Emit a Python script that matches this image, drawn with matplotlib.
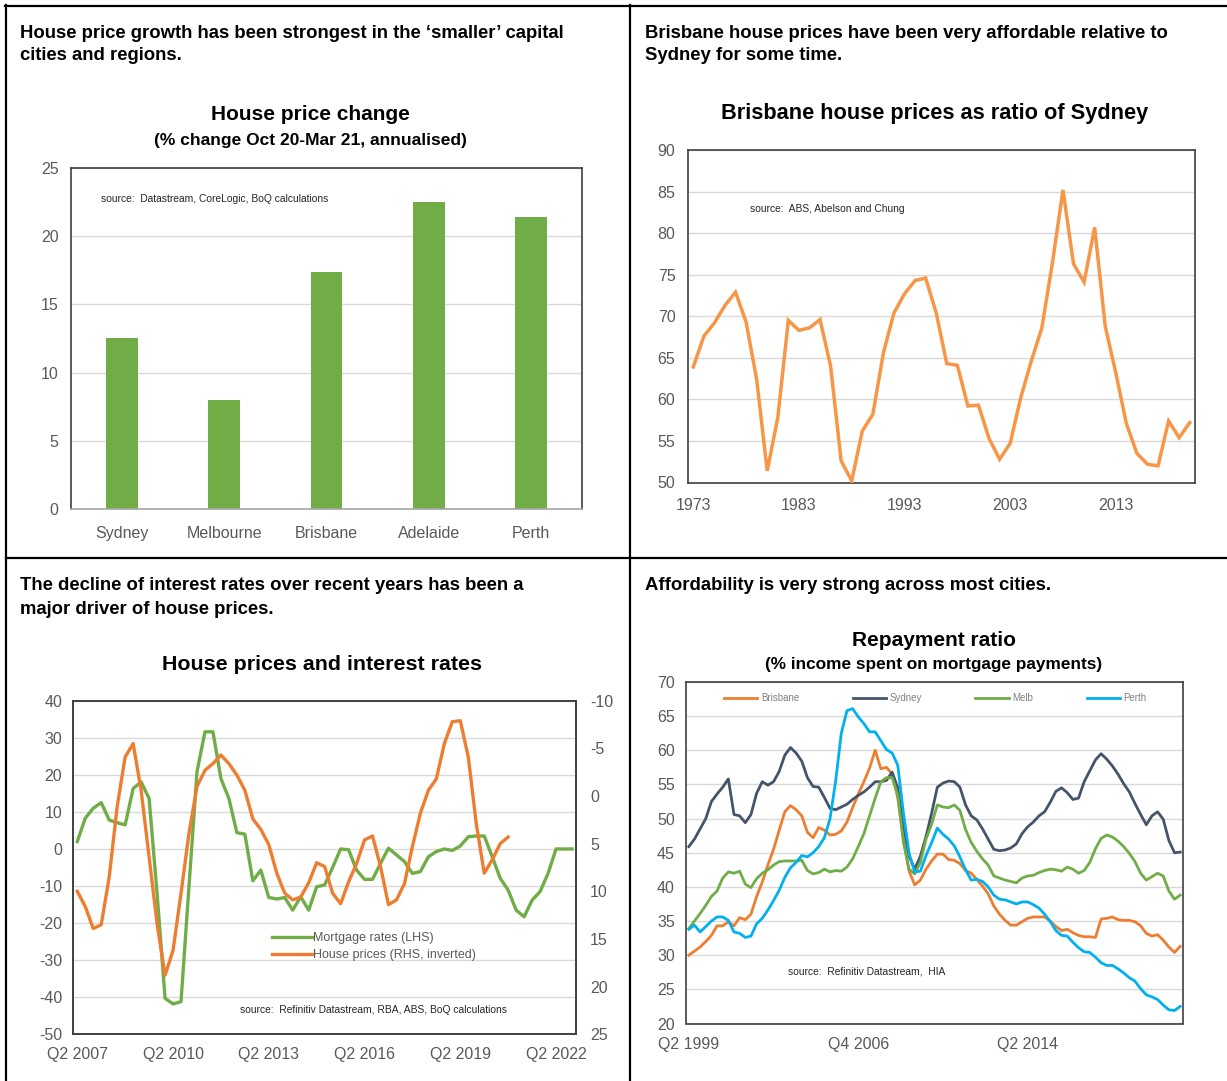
import matplotlib
matplotlib.use('Agg')
import matplotlib.pyplot as plt
import numpy as np
from matplotlib.lines import Line2D

# ---------------- data ----------------
p1_cities = ['Sydney', 'Melbourne', 'Brisbane', 'Adelaide', 'Perth']
p1_values = [12.5, 8.0, 17.4, 22.5, 21.4]

p2_years = list(range(1973, 2021))
p2_ratio = [63.9, 67.6, 69.2, 71.3, 72.9, 69.3, 62.4, 51.4, 57.8, 69.5,
            68.3, 68.6, 69.6, 64.0, 52.6, 50.2, 56.2, 58.2, 65.6, 70.4,
            72.7, 74.3, 74.6, 70.4, 64.3, 64.1, 59.2, 59.3, 55.3, 52.8,
            54.7, 60.2, 64.6, 68.6, 76.4, 85.2, 76.3, 74.1, 80.7, 68.8,
            63.2, 57.1, 53.5, 52.2, 52.0, 57.4, 55.4, 57.2]
p2_ticklabels = ['1973', '1983', '1993', '2003', '2013']

# quarterly, Q2 2007 .. Q4 2022
p3_mortgage = [2.0, 8.3, 11.0, 12.5, 7.8, 7.1, 6.5, 16.3, 18.1, 13.6,
               -12.0, -40.3, -41.8, -41.2, -10.0, 20.8, 31.6, 31.6, 19.0, 13.6,
               4.4, 4.0, -8.6, -5.7, -13.1, -13.5, -13.1, -16.5, -12.9, -16.5,
               -10.2, -9.7, -5.0, 0.0, -0.2, -5.7, -8.2, -8.2, -3.9, 0.2,
               -1.6, -3.4, -6.6, -6.1, -2.1, -0.7, 0.0, -0.4, 0.8, 3.3,
               3.5, 3.5, -2.1, -7.9, -11.1, -16.5, -18.3, -13.8, -11.5, -6.6,
               0.0, 0.0, 0.0]
p3_house = [10.0, 11.6, 13.9, 13.5, 8.5, 1.1, -4.1, -5.5, -0.6, 6.4,
            13.4, 18.8, 16.2, 10.2, 3.9, -1.0, -2.7, -3.4, -4.3, -3.4,
            -2.2, -0.6, 2.4, 3.5, 5.1, 8.1, 10.2, 10.9, 10.6, 9.1,
            7.0, 7.4, 10.2, 11.3, 9.0, 7.1, 4.6, 4.2, 7.4, 11.4,
            10.9, 9.2, 5.3, 1.8, -0.6, -1.8, -5.5, -7.8, -7.9, -4.1,
            2.9, 8.1, 6.7, 5.0, 4.3]
p3_ticklabels = ['Q2 2007', 'Q2 2010', 'Q2 2013', 'Q2 2016', 'Q2 2019', 'Q2 2022']
p3_labels = ['Mortgage rates (LHS)', 'House prices (RHS, inverted)']

# quarterly, Q2 1999 .. Q1 2021
p4_brisbane = [30.0, 30.6, 31.2, 32.0, 32.9, 34.3, 34.3, 34.9, 34.3, 35.5,
               35.2, 36.0, 38.6, 40.7, 43.2, 45.5, 48.3, 51.0, 51.9, 51.3,
               50.4, 48.0, 47.2, 48.7, 48.3, 47.6, 47.7, 48.2, 49.5, 51.6,
               53.6, 55.4, 57.4, 60.0, 57.3, 57.5, 56.5, 53.0, 47.0, 42.3,
               40.3, 41.0, 42.6, 43.8, 44.8, 44.8, 44.0, 43.9, 43.4, 42.4,
               42.0, 41.1, 40.1, 39.0, 37.2, 36.0, 35.1, 34.4, 34.4, 34.9,
               35.4, 35.6, 35.6, 35.6, 35.0, 34.2, 33.6, 33.8, 33.3, 32.9,
               32.7, 32.7, 32.6, 35.3, 35.4, 35.6, 35.2, 35.1, 35.1, 34.9,
               34.3, 33.2, 32.8, 33.0, 32.2, 31.2, 30.4, 31.3]
p4_sydney = [45.9, 47.0, 48.5, 50.0, 52.5, 53.6, 54.6, 55.8, 50.6, 50.4,
             49.4, 50.6, 53.7, 55.4, 54.9, 55.4, 56.9, 59.3, 60.4, 59.6,
             58.4, 56.0, 54.7, 54.6, 53.1, 51.5, 51.3, 51.7, 52.1, 52.8,
             53.4, 53.9, 54.6, 55.4, 55.4, 55.6, 56.8, 54.5, 49.0, 44.5,
             42.6, 44.5, 47.4, 50.8, 54.6, 55.2, 55.5, 55.4, 54.6, 52.0,
             50.4, 49.8, 48.5, 47.0, 45.5, 45.3, 45.4, 45.7, 46.3, 47.8,
             48.8, 49.5, 50.4, 51.0, 52.4, 54.0, 54.5, 53.8, 52.8, 53.0,
             55.4, 57.0, 58.6, 59.5, 58.7, 57.7, 56.5, 55.1, 53.9, 52.2,
             50.6, 49.1, 50.4, 51.0, 49.9, 46.8, 45.0, 45.1]
p4_melb = [33.9, 35.0, 36.1, 37.3, 38.6, 39.4, 41.3, 42.2, 42.0, 42.3,
           40.4, 39.9, 41.2, 42.0, 42.5, 43.2, 43.7, 43.8, 43.8, 43.8,
           43.9, 42.4, 41.9, 42.1, 42.6, 42.2, 42.4, 42.3, 42.9, 44.1,
           45.9, 47.8, 50.4, 53.0, 55.4, 56.0, 56.0, 53.5, 46.5, 42.6,
           41.9, 43.6, 47.0, 49.2, 52.0, 51.7, 51.6, 52.0, 51.2, 48.4,
           46.5, 45.2, 44.1, 43.2, 41.6, 41.3, 41.0, 40.8, 40.6, 41.3,
           41.6, 41.7, 42.1, 42.4, 42.6, 42.5, 42.3, 42.9, 42.6, 42.0,
           42.4, 43.6, 45.6, 47.1, 47.6, 47.3, 46.7, 45.9, 44.9, 43.7,
           42.0, 41.0, 41.5, 42.0, 41.6, 39.4, 38.2, 38.8]
p4_perth = [33.8, 34.4, 33.4, 34.2, 35.0, 35.6, 35.6, 35.1, 33.4, 33.2,
            32.6, 32.8, 34.6, 35.4, 36.6, 38.0, 39.5, 41.4, 42.8, 43.6,
            44.6, 44.4, 45.0, 45.9, 47.2, 50.0, 55.5, 62.5, 65.8, 66.1,
            64.9, 63.9, 62.7, 62.7, 61.4, 60.1, 59.6, 57.8, 50.8, 44.9,
            42.2, 42.3, 44.6, 46.5, 48.6, 47.7, 47.0, 46.0, 44.4, 42.5,
            41.0, 41.1, 40.8, 40.0, 38.8, 38.2, 38.1, 37.8, 37.5, 37.8,
            37.8, 37.4, 36.9, 36.0, 34.9, 33.6, 32.9, 32.8, 31.9, 31.1,
            30.5, 30.4, 29.7, 28.9, 28.5, 28.5, 28.0, 27.4, 26.7, 26.2,
            25.1, 24.2, 23.9, 23.5, 22.7, 22.0, 21.9, 22.5]
p4_names = ['Brisbane', 'Sydney', 'Melb', 'Perth']
p4_ticklabels = ['Q2 1999', 'Q4 2006', 'Q2 2014']

# ---------------- style ----------------
GREEN = '#70AD47'
ORANGE = '#ED7D31'
LORANGE = '#F79646'
NAVY = '#44546A'
CYAN = '#00B0F0'
TICK = '#595959'
GRID = '#D9D9D9'
SPINE = '#404040'

SANS = ['Liberation Sans', 'DejaVu Sans']
plt.rcParams['font.family'] = SANS
plt.rcParams['axes.unicode_minus'] = False

W, H = 1227, 1081
fig = plt.figure(figsize=(W / 100, H / 100), dpi=100)
fig.patch.set_facecolor('white')


def fx(x):
    return x / W


def fy(y):
    return 1 - y / H


def add_ax(l, t, r, b):
    return fig.add_axes([fx(l), fy(b), (r - l) / W, (b - t) / H])


def style(ax, ypad=7, xpad=9, size=11.5):
    for s in ax.spines.values():
        s.set_color(SPINE)
        s.set_linewidth(1.2)
    ax.tick_params(length=0, colors=TICK, labelsize=size)
    ax.tick_params(axis='y', pad=ypad)
    ax.tick_params(axis='x', pad=xpad)
    ax.yaxis.grid(True, color=GRID, lw=1.0)
    ax.set_axisbelow(True)


def ftext(x, y, s, **kw):
    fig.text(fx(x), fy(y), s, **kw)


# ---------------- panel borders ----------------
for (x0, y0, x1, y1) in [(5, 6, 1227, 6), (6, 5, 6, 1081), (630, 5, 630, 1081), (6, 557.5, 1227, 557.5)]:
    fig.add_artist(Line2D([fx(x0), fx(x1)], [fy(y0), fy(y1)], color='black', lw=1.6,
                          transform=fig.transFigure))

# ---------------- headers ----------------
hk = dict(fontsize=13.3, fontweight='bold', color='black', ha='left', va='center', family=SANS)
ftext(20, 33, 'House price growth has been strongest in the ‘smaller’ capital', **hk)
ftext(20, 56, 'cities and regions.', **hk)
ftext(645, 33, 'Brisbane house prices have been very affordable relative to', **hk)
ftext(645, 56, 'Sydney for some time.', **hk)
ftext(20, 585, 'The decline of interest rates over recent years has been a', **hk)
ftext(20, 609, 'major driver of house prices.', **hk)
ftext(645, 585, 'Affordability is very strong across most cities.', **hk)

tk = dict(fontweight='bold', color='black', ha='center', va='center', family=SANS)
ftext(310, 115, 'House price change', fontsize=15, **tk)
ftext(310, 141, '(% change Oct 20-Mar 21, annualised)', fontsize=12.5, **tk)
ftext(935, 114, 'Brisbane house prices as ratio of Sydney', fontsize=15.7, **tk)
ftext(322, 665, 'House prices and interest rates', fontsize=15.4, **tk)
ftext(934, 641, 'Repayment ratio', fontsize=15, **tk)
ftext(934, 664, '(% income spent on mortgage payments)', fontsize=12.4, **tk)

sk = dict(fontsize=7.4, color='#262626', ha='left', va='center', family=SANS)
ftext(101, 199, 'source:  Datastream, CoreLogic, BoQ calculations', **sk)
ftext(750, 209, 'source:  ABS, Abelson and Chung', **sk)
ftext(240, 1010, 'source:  Refinitiv Datastream, RBA, ABS, BoQ calculations', **sk)
ftext(788, 971, 'source:  Refinitiv Datastream,  HIA', **sk)

# ---------------- panel 1: bars ----------------
ax1 = add_ax(71, 168, 582, 509)
x1 = np.arange(len(p1_cities))
ax1.bar(x1, p1_values, width=0.31, color=GREEN, zorder=2)
ax1.set_xlim(-0.5, len(p1_cities) - 0.5)
ax1.set_ylim(0, 25)
ax1.set_yticks(np.arange(0, 26, 5))
ax1.set_xticks(x1)
ax1.set_xticklabels(p1_cities)
style(ax1, ypad=9, xpad=12)
ax1.spines['bottom'].set_color('#A6A6A6')

# ---------------- panel 2: ratio line ----------------
ax2 = add_ax(688, 150, 1195, 482.5)
ax2.plot(p2_years, p2_ratio, color=LORANGE, lw=2.5, solid_joinstyle='miter', zorder=3)
ax2.set_xlim(p2_years[0] - 0.5, p2_years[-1] + 0.5)
ax2.set_ylim(50, 90)
ax2.set_yticks(np.arange(50, 91, 5))
ax2.set_xticks([int(s) for s in p2_ticklabels])
ax2.set_xticklabels(p2_ticklabels)
style(ax2, ypad=9, xpad=11)

# ---------------- panel 3: rates vs prices ----------------
ax3 = add_ax(73.3, 700.7, 576, 1034.3)
n3 = len(p3_mortgage)
x3 = np.arange(n3)
house_full = np.full(n3, np.nan)
house_full[:len(p3_house)] = p3_house
l_m, = ax3.plot(x3, p3_mortgage, color=GREEN, lw=2.4, zorder=3, label=p3_labels[0])
ax3.set_xlim(-0.5, n3 - 0.5)
ax3.set_ylim(-50, 40)
ax3.set_yticks(np.arange(-50, 41, 10))
ax3.set_xticks(np.arange(0, n3, 12))
ax3.set_xticklabels(p3_ticklabels)
style(ax3, ypad=8, xpad=9)
ax3r = ax3.twinx()
l_h, = ax3r.plot(x3, house_full, color=ORANGE, lw=2.4, zorder=3, label=p3_labels[1])
ax3r.set_ylim(25, -10)
ax3r.set_yticks(np.arange(-10, 26, 5))
for s in ax3r.spines.values():
    s.set_color(SPINE)
    s.set_linewidth(1.2)
ax3r.tick_params(length=0, colors=TICK, labelsize=11.5, pad=10)
leg3 = fig.legend(handles=[l_m, l_h], labels=p3_labels, loc='upper left',
                  bbox_to_anchor=(fx(272), fy(932)), bbox_transform=fig.transFigure,
                  frameon=False, fontsize=9, handlelength=3.2, handletextpad=0.1,
                  labelspacing=0.42, borderpad=0, borderaxespad=0)
for t in leg3.get_texts():
    t.set_color(TICK)

# ---------------- panel 4: repayment ratio ----------------
ax4 = add_ax(686, 682, 1183, 1023.5)
n4 = len(p4_sydney)
x4 = np.arange(n4)
cols4 = [ORANGE, NAVY, GREEN, CYAN]
lines4 = []
for vals, c, nm in zip([p4_brisbane, p4_sydney, p4_melb, p4_perth], cols4, p4_names):
    ln, = ax4.plot(x4, vals, color=c, lw=2.0, zorder=3, label=nm)
    lines4.append(ln)
ax4.set_xlim(-0.5, n4 - 0.5)
ax4.set_ylim(20, 70)
ax4.set_yticks(np.arange(20, 71, 5))
ax4.set_xticks(np.arange(0, n4, 30))
ax4.set_xticklabels(p4_ticklabels)
style(ax4, ypad=8, xpad=10)
leg4 = fig.legend(handles=lines4, labels=p4_names, loc='center left', ncol=4,
                  bbox_to_anchor=(fx(724), fy(698)), bbox_transform=fig.transFigure,
                  frameon=False, fontsize=7, handlelength=3.4, handletextpad=0.4,
                  columnspacing=5.5, borderpad=0, borderaxespad=0)
for t in leg4.get_texts():
    t.set_color('#808080')

fig.savefig('out.png', dpi=100, facecolor='white')
